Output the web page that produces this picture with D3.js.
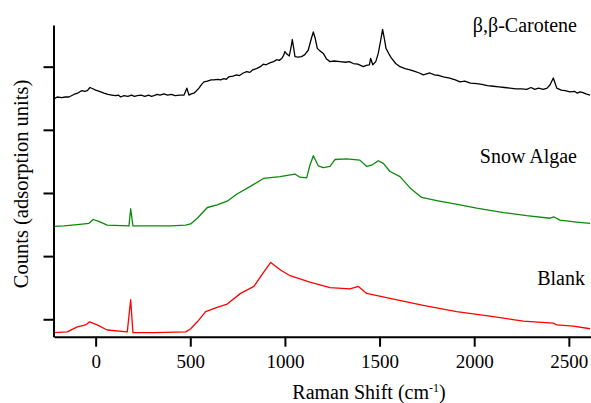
<!DOCTYPE html>
<html lang="en">
<head>
    <meta charset="UTF-8">
    <title>Raman spectra</title>
    <script src="https://cdn.jsdelivr.net/npm/d3@7"></script>
    <style>
        html, body { margin: 0; padding: 0; background: #fff; }
        svg { display: block; }
    </style>
</head>
<body>
    <div id="chart"></div>
    <script>
        // Raman shift (cm-1) and counts (y in tick units, spectra offset)
        const caroteneShift = [-220, -203, -180, -160, -141, -128, -115, -95, -80, -71, -58, -44, -30, -15, 0, 20, 44, 65, 85, 105, 120, 132, 150, 170, 190, 205, 220, 240, 260, 280, 295, 308, 325, 340, 361, 380, 400, 420, 445, 467, 482, 493, 505, 519, 530, 546, 560, 572, 590, 610, 625, 645, 660, 678, 690, 704, 725, 745, 760, 780, 798, 815, 830, 850, 870, 886, 900, 920, 940, 956, 970, 983, 993, 1000, 1010, 1023, 1032, 1039, 1046, 1053, 1070, 1088, 1105, 1123, 1140, 1150, 1160, 1171, 1185, 1203, 1220, 1238, 1260, 1291, 1320, 1340, 1361, 1385, 1414, 1430, 1446, 1453, 1464, 1480, 1493, 1505, 1516, 1525, 1534, 1550, 1564, 1585, 1608, 1635, 1661, 1690, 1710, 1731, 1766, 1790, 1815, 1837, 1870, 1900, 1925, 1950, 1980, 2013, 2040, 2070, 2101, 2130, 2160, 2189, 2220, 2250, 2277, 2300, 2320, 2340, 2365, 2385, 2400, 2418, 2436, 2460, 2480, 2506, 2530, 2545, 2559, 2575, 2590, 2612];
        const caroteneCounts = [4.49, 4.52, 4.51, 4.52, 4.52, 4.54, 4.56, 4.58, 4.61, 4.62, 4.61, 4.62, 4.67, 4.65, 4.63, 4.61, 4.58, 4.56, 4.55, 4.54, 4.55, 4.52, 4.54, 4.53, 4.55, 4.53, 4.54, 4.55, 4.53, 4.55, 4.53, 4.54, 4.56, 4.55, 4.57, 4.55, 4.56, 4.54, 4.55, 4.55, 4.66, 4.55, 4.57, 4.58, 4.61, 4.66, 4.72, 4.76, 4.77, 4.79, 4.79, 4.80, 4.79, 4.81, 4.80, 4.84, 4.85, 4.87, 4.86, 4.90, 4.92, 4.91, 4.95, 4.97, 5.00, 5.04, 5.03, 5.06, 5.08, 5.11, 5.10, 5.13, 5.18, 5.24, 5.20, 5.17, 5.30, 5.43, 5.30, 5.16, 5.15, 5.16, 5.19, 5.26, 5.45, 5.55, 5.45, 5.29, 5.25, 5.21, 5.12, 5.08, 5.09, 5.08, 5.07, 5.08, 5.05, 5.04, 5.00, 5.02, 5.03, 5.13, 5.03, 5.08, 5.21, 5.40, 5.59, 5.45, 5.29, 5.20, 5.13, 5.05, 5.00, 4.97, 4.95, 4.92, 4.90, 4.87, 4.90, 4.87, 4.86, 4.84, 4.82, 4.79, 4.76, 4.77, 4.74, 4.73, 4.72, 4.70, 4.69, 4.68, 4.67, 4.66, 4.65, 4.65, 4.64, 4.67, 4.64, 4.66, 4.64, 4.66, 4.71, 4.82, 4.66, 4.63, 4.62, 4.60, 4.61, 4.58, 4.60, 4.59, 4.57, 4.55];

        const algaeShift = [-220, -167, -97, -35, -13, 17, 61, 176, 185, 197, 273, 396, 476, 502, 537, 590, 642, 695, 745, 815, 886, 974, 1053, 1079, 1115, 1132, 1150, 1176, 1203, 1238, 1264, 1326, 1396, 1432, 1458, 1493, 1520, 1555, 1608, 1661, 1722, 1802, 1925, 2013, 2154, 2277, 2400, 2422, 2453, 2541, 2612];
        const algaeCounts = [2.47, 2.48, 2.50, 2.52, 2.58, 2.55, 2.49, 2.48, 2.75, 2.48, 2.48, 2.48, 2.49, 2.51, 2.60, 2.77, 2.81, 2.87, 2.98, 3.10, 3.23, 3.26, 3.30, 3.25, 3.24, 3.44, 3.59, 3.43, 3.40, 3.42, 3.53, 3.54, 3.52, 3.42, 3.44, 3.51, 3.47, 3.34, 3.26, 3.08, 2.93, 2.88, 2.81, 2.76, 2.69, 2.64, 2.60, 2.62, 2.57, 2.54, 2.52];

        const blankShift = [-220, -150, -97, -53, -32, 8, 61, 167, 185, 197, 308, 476, 502, 537, 581, 642, 695, 766, 836, 889, 925, 977, 1027, 1132, 1238, 1344, 1388, 1432, 1555, 1731, 1907, 2083, 2259, 2418, 2436, 2524, 2612];
        const blankCounts = [0.79, 0.80, 0.88, 0.91, 0.96, 0.91, 0.83, 0.80, 1.31, 0.79, 0.79, 0.80, 0.85, 0.96, 1.12, 1.19, 1.24, 1.41, 1.52, 1.75, 1.90, 1.78, 1.69, 1.59, 1.50, 1.48, 1.52, 1.41, 1.33, 1.22, 1.12, 1.05, 0.97, 0.94, 0.91, 0.89, 0.85];

        const xTicks = [0, 500, 1000, 1500, 2000, 2500];
        const yTicks = [1, 2, 3, 4, 5];

        const seriesNames = ["\u03b2,\u03b2-Carotene", "Snow Algae", "Blank"];
        const seriesColors = ["#000000", "#0a8a0a", "#ff0000"];

        const serif = "'Liberation Serif', 'Times New Roman', Times, 'DejaVu Serif', serif";

        const width = 591, height = 403;
        const svg = d3.select("#chart").append("svg")
            .attr("width", width)
            .attr("height", height)
            .attr("font-family", serif);

        const x = d3.scaleLinear().domain([-220, 2617]).range([54, 591]);
        const y = d3.scaleLinear().domain([0.724, 5.66]).range([336.7, 25]);

        const series = [
            { name: seriesNames[0], color: seriesColors[0], xs: caroteneShift, ys: caroteneCounts, label: [577, 32] },
            { name: seriesNames[1], color: seriesColors[1], xs: algaeShift, ys: algaeCounts, label: [577, 163] },
            { name: seriesNames[2], color: seriesColors[2], xs: blankShift, ys: blankCounts, label: [585, 285] }
        ];

        const line = d3.line()
            .x(d => x(d[0]))
            .y(d => y(d[1]));

        series.forEach(s => {
            const pts = s.xs.map((v, i) => [v, s.ys[i]]);
            svg.append("path")
                .datum(pts)
                .attr("d", line)
                .attr("fill", "none")
                .attr("stroke", s.color)
                .attr("stroke-width", 1.3)
                .attr("stroke-linejoin", "round");

            svg.append("text")
                .attr("x", s.label[0])
                .attr("y", s.label[1])
                .attr("text-anchor", "end")
                .attr("font-family", serif)
                .attr("font-size", 20)
                .text(s.name);
        });

        // axes
        const xAxis = svg.append("g")
            .attr("transform", "translate(0,336.7)")
            .call(d3.axisBottom(x).tickValues(xTicks).tickFormat(d3.format("d"))
                .tickSize(10).tickSizeOuter(0).tickPadding(8));
        xAxis.attr("font-family", serif).attr("font-size", 19);
        xAxis.select(".domain").attr("stroke-width", 2);
        xAxis.selectAll(".tick line").attr("stroke-width", 2);

        const yAxis = svg.append("g")
            .attr("transform", "translate(53.5,0)")
            .call(d3.axisLeft(y).tickValues(yTicks).tickSize(10).tickSizeOuter(0).tickFormat(""));
        yAxis.select(".domain").attr("stroke-width", 2);
        yAxis.selectAll(".tick line").attr("stroke-width", 2);

        // axis titles
        const xTitle = svg.append("text")
            .attr("x", 369)
            .attr("y", 399)
            .attr("text-anchor", "middle")
            .attr("font-family", serif)
            .attr("font-size", 20);
        xTitle.append("tspan").text("Raman Shift (cm");
        xTitle.append("tspan").attr("dy", -7).attr("font-size", 12).text("-1");
        xTitle.append("tspan").attr("dy", 7).text(")");

        svg.append("text")
            .attr("transform", "translate(28,184) rotate(-90)")
            .attr("text-anchor", "middle")
            .attr("font-family", serif)
            .attr("font-size", 20.5)
            .text("Counts (adsorption units)");
    </script>
</body>
</html>
